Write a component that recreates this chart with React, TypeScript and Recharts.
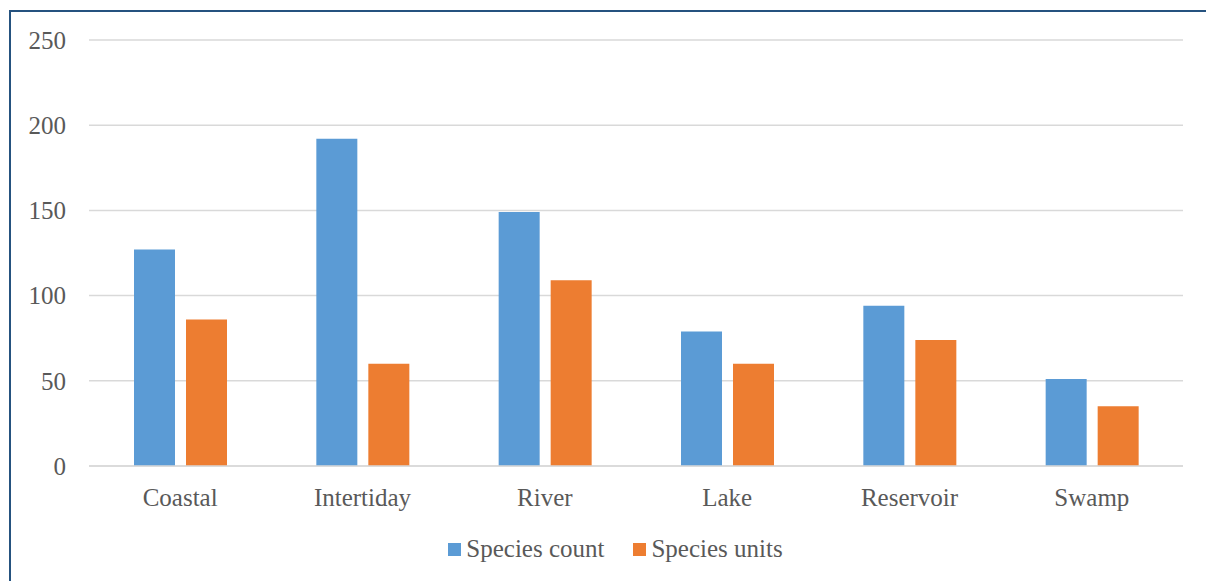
import React from "react";
import { BarChart, Bar, XAxis, YAxis, CartesianGrid, Legend } from "recharts";

const categories = ["Coastal", "Intertiday", "River", "Lake", "Reservoir", "Swamp"];
const speciesCount = [127, 192, 149, 79, 94, 51];
const speciesUnits = [86, 60, 109, 60, 74, 35];
const yTicks = [0, 50, 100, 150, 200, 250];

const seriesNames = ["Species count", "Species units"];
const seriesColors = ["#5B9BD5", "#ED7D31"];

const data = categories.map((c, i) => ({
  name: c,
  count: speciesCount[i],
  units: speciesUnits[i],
}));

const FONT = "'Liberation Serif', serif";
const TEXT = "#595959";

const renderLegend = () => (
  <div
    style={{
      display: "flex",
      justifyContent: "center",
      alignItems: "center",
      height: 36,
      paddingLeft: 25,
      boxSizing: "border-box",
      fontFamily: FONT,
      fontSize: 25,
      color: TEXT,
    }}
  >
    {seriesNames.map((n, i) => (
      <div
        key={n}
        style={{ display: "flex", alignItems: "center", marginRight: i === 0 ? 29 : 0 }}
      >
        <span
          style={{
            display: "inline-block",
            width: 13,
            height: 13,
            background: seriesColors[i],
            marginRight: 5,
          }}
        />
        <span>{n}</span>
      </div>
    ))}
  </div>
);

export default function App() {
  return (
    <div
      style={{
        position: "absolute",
        left: 0,
        top: 0,
        width: 1206,
        height: 581,
        background: "#fff",
        overflow: "hidden",
        fontFamily: FONT,
      }}
    >
      <div
        style={{
          position: "absolute",
          left: 9,
          top: 10,
          width: 1210,
          height: 600,
          borderLeft: "2px solid #25527F",
          borderTop: "2px solid #25527F",
        }}
      />
      <BarChart
        width={1206}
        height={581}
        data={data}
        margin={{ top: 40, right: 23, left: 0, bottom: 14 }}
        barSize={41}
        barGap={11}
      >
        <CartesianGrid vertical={false} stroke="#d9d9d9" strokeWidth={1.5} />
        <XAxis
          dataKey="name"
          height={65}
          tickLine={false}
          tickSize={0}
          tickMargin={22}
          axisLine={{ stroke: "#d9d9d9", strokeWidth: 1.5 }}
          tick={{ fill: TEXT, fontSize: 25, fontFamily: FONT }}
        />
        <YAxis
          width={89}
          domain={[0, 250]}
          ticks={yTicks}
          axisLine={false}
          tickLine={false}
          tickSize={0}
          tickMargin={23}
          tick={{ fill: TEXT, fontSize: 25, fontFamily: FONT }}
        />
        <Legend
          verticalAlign="bottom"
          content={renderLegend}
          wrapperStyle={{ left: 0, width: 1206, height: 36, bottom: 14 }}
        />
        <Bar dataKey="count" name={seriesNames[0]} fill={seriesColors[0]} isAnimationActive={false} />
        <Bar dataKey="units" name={seriesNames[1]} fill={seriesColors[1]} isAnimationActive={false} />
      </BarChart>
    </div>
  );
}
